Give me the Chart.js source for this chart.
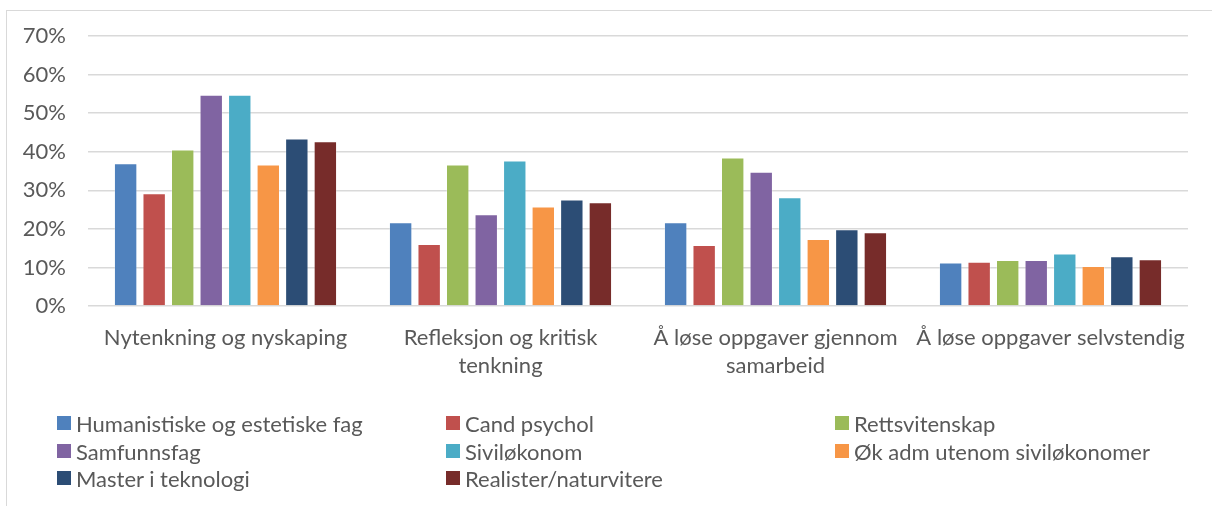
<!DOCTYPE html>
<html>
<head>
<meta charset="utf-8">
<script src="https://cdn.jsdelivr.net/npm/chart.js@4"></script>
<style>
  html,body{margin:0;padding:0;background:#fff;}
  #wrap{position:relative;width:1212px;height:506px;overflow:hidden;}
  #frame{position:absolute;left:6px;top:10px;width:1220px;height:520px;border-left:1.5px solid #d9d9d9;border-top:1.5px solid #d9d9d9;}
  canvas{position:absolute;left:0;top:0;}
  #legend{position:absolute;left:0;top:0;width:1212px;height:506px;font-family:Lato,"Liberation Sans",sans-serif;font-size:22px;color:#595959;}
  .item{position:absolute;display:flex;align-items:center;white-space:nowrap;}
  .box{width:14px;height:14px;margin-right:5px;}
</style>
</head>
<body>
<div id="wrap">
  <div id="frame"></div>
  <canvas id="c" width="1212" height="506"></canvas>
  <div id="legend"></div>
</div>
<script>
const categories = [
  "Nytenkning og nyskaping",
  ["Refleksjon og kritisk", "tenkning"],
  ["Å løse oppgaver gjennom", "samarbeid"],
  "Å løse oppgaver selvstendig"
];
const seriesNames = [
  "Humanistiske og estetiske fag",
  "Cand psychol",
  "Rettsvitenskap",
  "Samfunnsfag",
  "Siviløkonom",
  "Øk adm utenom siviløkonomer",
  "Master i teknologi",
  "Realister/naturvitere"
];
const humanistiske = [37.0, 21.7, 21.7, 11.3];
const candPsychol = [29.2, 16.1, 15.8, 11.5];
const rettsvitenskap = [40.6, 36.7, 38.5, 11.9];
const samfunnsfag = [54.8, 23.8, 34.8, 11.9];
const sivilokonom = [54.8, 37.7, 28.2, 13.6];
const okAdm = [36.7, 25.8, 17.4, 10.4];
const masterTek = [43.4, 27.6, 19.9, 12.9];
const realister = [42.7, 26.9, 19.1, 12.1];
const yTicks = [0, 10, 20, 30, 40, 50, 60, 70];

const seriesValues = [humanistiske, candPsychol, rettsvitenskap, samfunnsfag, sivilokonom, okAdm, masterTek, realister];
const colors = ["#4F81BD", "#C0504D", "#9BBB59", "#8064A2", "#4BACC6", "#F79646", "#2C4D75", "#772C2A"];

const FONT = 'Lato, "Liberation Sans", sans-serif';

const datasets = seriesNames.map((n, i) => ({
  label: n,
  data: seriesValues[i],
  backgroundColor: colors[i],
  borderColor: "rgba(255,255,255,0.25)",
  borderWidth: 1,
  categoryPercentage: 0.83,
  barPercentage: 0.82
}));

new Chart(document.getElementById("c"), {
  type: "bar",
  data: { labels: categories, datasets },
  options: {
    responsive: false,
    animation: false,
    events: [],
    layout: { padding: { left: 8, right: 24, top: 36, bottom: 110 } },
    plugins: { legend: { display: false }, tooltip: { enabled: false } },
    scales: {
      x: {
        grid: { display: false, drawTicks: false },
        border: { display: false },
        ticks: {
          color: "#595959",
          font: { family: FONT, size: 22, lineHeight: 1.27 },
          padding: 18,
          maxRotation: 0,
          autoSkip: false
        },
        afterFit: s => { s.height = 90; }
      },
      y: {
        min: 0, max: 70,
        afterBuildTicks: s => { s.ticks = yTicks.map(v => ({ value: v })); },
        grid: { color: "#d9d9d9", lineWidth: 1.5, drawTicks: false },
        border: { display: false },
        ticks: {
          color: "#595959",
          font: { family: FONT, size: 22 },
          padding: 22,
          callback: v => v + "%"
        },
        afterFit: s => { s.width = 80; }
      }
    }
  }
});

const legendPos = [
  [57, 423], [446, 423], [835, 423],
  [57, 451], [446, 451], [835, 451],
  [57, 478], [446, 478]
];
const lg = document.getElementById("legend");
seriesNames.forEach((n, i) => {
  const d = document.createElement("div");
  d.className = "item";
  d.style.left = legendPos[i][0] + "px";
  d.style.top = (legendPos[i][1] - 14) + "px";
  d.style.height = "28px";
  const b = document.createElement("div");
  b.className = "box";
  b.style.background = colors[i];
  const t = document.createElement("span");
  t.textContent = n;
  d.appendChild(b); d.appendChild(t);
  lg.appendChild(d);
});
</script>
</body>
</html>
